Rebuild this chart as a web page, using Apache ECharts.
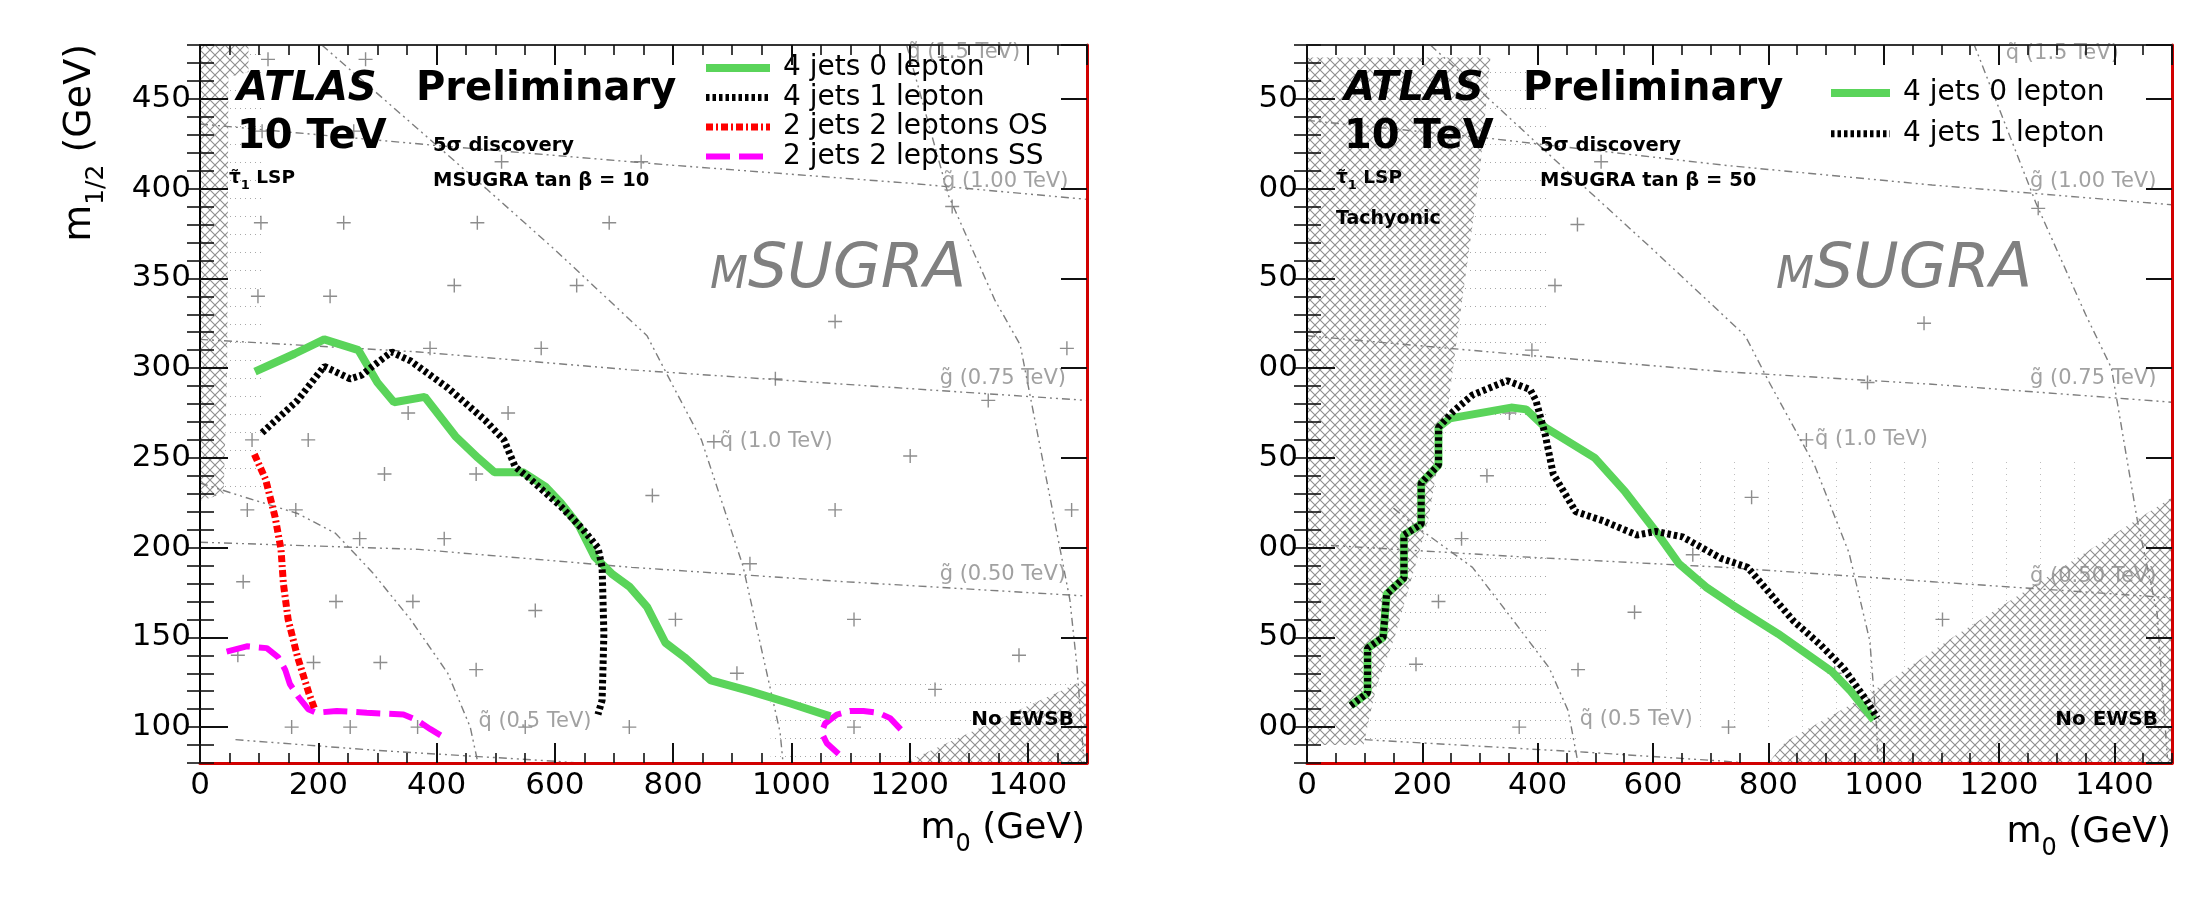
<!DOCTYPE html>
<html>
<head>
<meta charset="utf-8">
<title>ATLAS Preliminary - mSUGRA 5 sigma discovery reach</title>
<script src="https://cdn.jsdelivr.net/npm/echarts@6/dist/echarts.min.js"></script>
<style>
  html, body { margin: 0; padding: 0; background: #fff; }
  #chart { width: 2188px; height: 914px; }
</style>
</head>
<body>
<div id="chart"></div>
<script>
/* ATLAS 10 TeV mSUGRA 5 sigma discovery contours, tan beta = 10 (left) and 50 (right) */

const FONT = 'DejaVu Sans';
const NAMES = ['4 jets 0 lepton', '4 jets 1 lepton', '2 jets 2 leptons OS', '2 jets 2 leptons SS'];

// --- reach contours, [m0, m1/2] in GeV ---

// tan beta = 10
const green10 = [[93,298],[160,308],[210,316],[268,310],[300,292],[328,281],[380,284],[432,262],[470,250],[498,242],[546,242],[584,234],[610,225],[641,212],[667,195],[698,185],[727,178],[756,167],[787,147],[819,139],[864,126],[930,120],[1000,113],[1066,106]];
const black10 = [[105,264],[165,282],[210,301],[254,294],[273,296],[292,301],[324,309],[356,304],[419,289],[482,271],[514,260],[533,245],[559,238],[610,223],[648,210],[673,200],[680,189],[683,152],[680,115],[673,107]];
const red10 = [[92,252],[111,238],[127,217],[137,199],[141,180],[149,160],[165,139],[184,119],[194,110]];
const magentaA10 = [[45,142],[79,145],[113,144],[132,139],[144,132],[152,124],[166,117],[183,110],[197,108],[231,109],[282,108],[344,107],[366,104],[389,99],[409,95]];
const magentaB10 = [[1080,85],[1060,91],[1051,97],[1057,102],[1077,107],[1099,109],[1122,109],[1147,108],[1167,105],[1187,98]];

// tan beta = 50
const green50 = [[76,112],[105,119],[105,144],[132,150],[138,174],[168,183],[168,207],[198,213],[198,236],[228,246],[228,267],[248,272],[354,278],[380,277],[413,267],[499,250],[552,231],[605,209],[645,191],[692,178],[738,168],[817,152],[910,131],[943,120],[983,104]];
const black50 = [[76,112],[105,119],[105,144],[132,150],[138,174],[168,183],[168,207],[198,213],[198,236],[228,246],[228,267],[254,276],[287,285],[347,293],[387,288],[397,282],[413,263],[427,241],[466,220],[513,215],[572,207],[605,209],[651,206],[718,194],[764,189],[804,174],[844,159],[890,146],[930,133],[970,115],[989,105]];

// --- iso-mass lines (gluino / squark) ---
const gl100_10 = [[0,436],[400,424],[800,413],[1200,403],[1500,394]];
const gl075_10 = [[0,316],[370,309],[730,299],[1090,291],[1500,282]];
const gl050_10 = [[0,203],[370,199],[730,189],[1090,181],[1500,173]];
const gl025_10 = [[60,93],[300,87],[600,81],[640,80]];
const sq05_10 = [[0,236],[57,230],[165,219],[229,208],[292,186],[356,160],[419,130],[457,100],[470,80]];
const sq10_10 = [[206,480],[484,400],[600,366],[756,318],[800,290],[848,260],[918,190],[981,97],[986,80]];
const sq15_10 = [[1195,480],[1266,396],[1344,338],[1387,313],[1454,200],[1471,171],[1483,134],[1495,80]];

const gl100_50 = [[0,438],[316,428],[724,413],[1084,402],[1500,391]];
const gl075_50 = [[0,318],[388,307],[724,298],[1084,291],[1500,281]];
const gl050_50 = [[0,202],[364,195],[724,189],[1084,181],[1500,172]];
const gl025_50 = [[100,93],[484,86],[724,81],[760,80]];
const sq05_50 = [[150,222],[184,213],[287,189],[354,161],[420,133],[453,109],[470,80]];
const sq10_50 = [[214,480],[484,400],[600,366],[760,318],[800,293],[880,246],[940,197],[976,148],[988,99],[990,80]];
const sq15_50 = [[1156,481],[1264,392],[1350,330],[1395,300],[1440,215],[1474,164],[1492,83]];

// iso-mass line labels: [text, m0, m1/2]
const labels10 = [['g\u0303 (1.00 TeV)',1254,404],['g\u0303 (0.75 TeV)',1250,294],['g\u0303 (0.50 TeV)',1250,185],['q\u0303 (1.5 TeV)',1195,476],['q\u0303 (1.0 TeV)',878,259],['q\u0303 (0.5 TeV)',470,103]];
const labels50 = [['g\u0303 (1.00 TeV)',1253,404],['g\u0303 (0.75 TeV)',1253,294],['g\u0303 (0.50 TeV)',1253,184],['q\u0303 (1.5 TeV)',1211,475],['q\u0303 (1.0 TeV)',880,260],['q\u0303 (0.5 TeV)',472,104]];

// --- scan points (+) ---
const scan10 = [[115,472],[280,472],[105,432],[260,432],[510,415],[746,415],[1272,390],
  [103,381],[243,381],[469,381],[692,381],[430,346],[637,346],[98,340],[220,340],
  [1074,326],[389,311],[577,311],[1466,311],[973,294],[1333,282],[352,275],[521,275],
  [88,260],[183,260],[869,259],[1201,251],[312,241],[467,241],[765,229],
  [80,221],[162,221],[1074,221],[1474,221],[270,205],[413,205],[930,191],[73,181],
  [230,170],[360,170],[567,165],[804,160],[1106,160],
  [1385,140],[64,140],[192,136],[305,136],[467,132],[908,130],[1243,121],
  [155,100],[254,100],[368,100],[550,100],[726,100],[1106,100]];
const scan50 = [[510,415],[469,380],[430,346],[1070,325],[390,310],[972,292],[1268,389],[351,275],
  [866,260],[312,240],[771,228],[268,205],[669,196],[228,170],[568,164],[1102,160],
  [189,135],[470,132],[915,130],[368,100],[731,100]];

// --- excluded regions (hatched) and scan texture ---
const lspStrip10 = [[0,480],[82,480],[82,465],[48,462],[46,300],[40,230],[0,226]];
const noEwsb10 = [[1190,80],[1500,127],[1500,80]];
const tachyonic50 = [[0,473],[318,473],[300,410],[270,340],[245,280],[210,215],[188,190],[152,150],[120,122],[108,105],[98,90],[0,90]];
const noEwsb50 = [[800,80],[830,92],[940,112],[1000,124],[1120,150],[1500,228],[1500,80]];
const dotsA10 = [[0,480],[105,480],[105,228],[0,228]];
const dotsB10 = [[965,125],[1500,127],[1500,80],[965,80]];
const dotsA50 = [[316,473],[420,473],[420,130],[470,92],[98,90]];
const dotsB50 = [[600,250],[1340,250],[1340,100],[600,100]];

// --- patterns ---
function crossHatch() {
  const c = document.createElement('canvas');
  c.width = 10; c.height = 10;
  const ctx = c.getContext('2d');
  ctx.fillStyle = '#fff';
  ctx.fillRect(0, 0, 10, 10);
  ctx.strokeStyle = '#8e8e8e';
  ctx.lineWidth = 1.1;
  ctx.beginPath();
  ctx.moveTo(-2, -2); ctx.lineTo(12, 12);
  ctx.moveTo(12, -2); ctx.lineTo(-2, 12);
  ctx.stroke();
  return { type: 'pattern', image: c, repeat: 'repeat' };
}
function dots(w, h, color) {
  const c = document.createElement('canvas');
  c.width = w; c.height = h;
  const ctx = c.getContext('2d');
  ctx.fillStyle = color;
  ctx.fillRect(0, 0, 1, 1);
  return { type: 'pattern', image: c, repeat: 'repeat' };
}
const HATCH = crossHatch();
const ROWS = dots(5, 18, '#a8a8a8');
const COLS = dots(34, 6, '#bdbdbd');

const PLUS = 'path://M6.3,0h1.4v6.3h6.3v1.4h-6.3v6.3h-1.4v-6.3h-6.3v-1.4h6.3z';

// --- series helpers ---
function area(points, g, fill, z) {
  return {
    type: 'custom', xAxisIndex: g * 4, yAxisIndex: g * 4, silent: true, z: z,
    data: [0],
    renderItem: (params, api) => ({
      type: 'polygon',
      shape: { points: points.map(p => api.coord(p)) },
      style: { fill: fill, stroke: null }
    })
  };
}
function isoLine(data, g) {
  return {
    type: 'line', data: data, xAxisIndex: g * 4, yAxisIndex: g * 4,
    symbol: 'none', silent: true, z: 3,
    lineStyle: { color: '#7e7e7e', width: 1.4, type: [8, 4, 2, 4, 2, 4] }
  };
}
function isoLabels(list, g) {
  return {
    type: 'scatter', xAxisIndex: g * 4, yAxisIndex: g * 4, silent: true, z: 5,
    symbolSize: 1, itemStyle: { color: 'rgba(0,0,0,0)' },
    data: list.map(l => ({ name: l[0], value: [l[1], l[2]] })),
    label: { show: true, position: 'right', distance: 0, formatter: '{b}',
             fontFamily: FONT, fontSize: 21, color: '#8a8a8a' }
  };
}
function scanPoints(data, g) {
  return {
    type: 'scatter', xAxisIndex: g * 4, yAxisIndex: g * 4, silent: true, z: 4,
    symbol: PLUS, symbolSize: 14, itemStyle: { color: '#707070' }, data: data
  };
}
function curve(name, data, g, color, width, dash, z) {
  return {
    type: 'line', name: name, data: data, xAxisIndex: g * 4, yAxisIndex: g * 4,
    symbol: 'none', silent: true, z: z,
    itemStyle: { color: color },
    lineStyle: { color: color, width: width, type: dash, cap: 'butt' }
  };
}

// --- axes: bottom/top/left/right, each with a major and a minor layer ---
function xAxes(g) {
  const base = { gridIndex: g, type: 'value', min: 0, max: 1500, splitLine: { show: false }, z: 10 };
  const tick = (len, w) => ({ inside: true, length: len, lineStyle: { color: '#111', width: w } });
  return [
    Object.assign({}, base, { position: 'bottom', interval: 200,
      axisLine: { onZero: false, lineStyle: { color: '#d10000', width: 3 } },
      axisTick: tick(20, 2),
      axisLabel: { margin: 7, fontFamily: FONT, fontSize: 31, color: '#000', showMaxLabel: false,
                   formatter: v => String(v) } }),
    Object.assign({}, base, { position: 'bottom', interval: 50,
      axisLine: { show: false }, axisTick: tick(10, 1.6), axisLabel: { show: false } }),
    Object.assign({}, base, { position: 'top', interval: 200,
      axisLine: { onZero: false, lineStyle: { color: '#333', width: 2 } },
      axisTick: tick(20, 2), axisLabel: { show: false } }),
    Object.assign({}, base, { position: 'top', interval: 50,
      axisLine: { show: false }, axisTick: tick(10, 1.6), axisLabel: { show: false } })
  ];
}
function yAxes(g) {
  const base = { gridIndex: g, type: 'value', min: 80, max: 480, splitLine: { show: false }, z: 10 };
  const major = { splitNumber: 8, minInterval: 50, maxInterval: 50 };
  const tick = (len, w) => ({ inside: true, length: len, lineStyle: { color: '#111', width: w } });
  const label = { margin: 9, fontFamily: FONT, fontSize: 31, color: '#000', showMinLabel: false, showMaxLabel: false,
                  formatter: v => String(v) };
  // right panel is cropped on the left in the original figure: only the last two digits show
  if (g === 1) label.formatter = v => String(v).slice(-2);
  return [
    Object.assign({}, base, major, { position: 'left',
      axisLine: { onZero: false, lineStyle: { color: '#000', width: 2 } },
      axisTick: tick(28, 2), axisLabel: label }),
    Object.assign({}, base, { position: 'left', interval: 10,
      axisLine: { show: false }, axisTick: tick(14, 1.6), axisLabel: { show: false } }),
    Object.assign({}, base, major, { position: 'right',
      axisLine: { onZero: false, lineStyle: { color: '#d10000', width: 3 } },
      axisTick: tick(26, 2), axisLabel: { show: false } }),
    Object.assign({}, base, { position: 'right', interval: 10,
      axisLine: { show: false }, axisTick: tick(13, 1.6), axisLabel: { show: false } })
  ];
}

// --- text annotations ---
function txt(x, y, text, size, o) {
  o = o || {};
  return {
    type: 'text', x: x, y: y, silent: true, z: 20, rotation: o.rotation || 0,
    style: {
      text: text, fontFamily: FONT, fontSize: size,
      fontWeight: o.bold ? 'bold' : 'normal', fontStyle: o.italic ? 'italic' : 'normal',
      fill: o.color || '#000', align: o.align || 'left', verticalAlign: 'middle', rich: o.rich
    }
  };
}
function subRich(size, subSize, drop, bold) {
  const w = bold ? 'bold' : 'normal';
  return {
    a: { fontFamily: FONT, fontSize: size, fontWeight: w, lineHeight: size, verticalAlign: 'bottom', padding: [0, 0, drop, 0] },
    s: { fontFamily: FONT, fontSize: subSize, fontWeight: w, lineHeight: subSize, verticalAlign: 'bottom' }
  };
}
function panelText(gl, tanb, extra) {
  const out = [
    txt(gl + 37, 90, 'ATLAS', 40, { bold: true, italic: true }),
    txt(gl + 216, 90, 'Preliminary', 40, { bold: true }),
    txt(gl + 37, 138, '10 TeV', 40, { bold: true }),
    txt(gl + 233, 146, '5\u03c3 discovery', 19.5, { bold: true }),
    txt(gl + 233, 180.5, 'MSUGRA tan \u03b2 = ' + tanb, 19.5, { bold: true }),
    txt(gl + 29, 183, '{a|\u03c4\u0303}{s|1}{a| LSP}', 18.5, { bold: true, rich: subRich(18.5, 13, 5, true) })
  ];
  return out.concat(extra);
}

const graphics = [].concat(
  panelText(200, 10, [
    txt(710, 276.6, 'M', 44, { italic: true, color: '#808080' }),
    txt(748, 270.7, 'SUGRA', 62, { italic: true, color: '#808080' }),
    txt(1074, 720, 'No EWSB', 20, { bold: true, align: 'right' }),
    txt(90, 44, '{a|m}{s|1/2}{a| (GeV)}', 38, { align: 'right', rotation: Math.PI / 2, rich: subRich(38, 25, 10, false) }),
    txt(1085, 839, '{a|m}{s|0}{a| (GeV)}', 36, { align: 'right', rich: subRich(36, 24, 10, false) })
  ]),
  panelText(1307, 50, [
    txt(1336, 219, 'Tachyonic', 19, { bold: true }),
    txt(1776, 276.6, 'M', 44, { italic: true, color: '#808080' }),
    txt(1814, 270.7, 'SUGRA', 62, { italic: true, color: '#808080' }),
    txt(2158, 720, 'No EWSB', 20, { bold: true, align: 'right' }),
    txt(2171, 843, '{a|m}{s|0}{a| (GeV)}', 36, { align: 'right', rich: subRich(36, 24, 10, false) })
  ])
);

const legendBase = {
  orient: 'vertical', padding: 0, selectedMode: false,
  itemHeight: 14,
  lineStyle: { width: 'inherit', type: 'inherit', cap: 'butt' },
  itemStyle: { color: 'rgba(0,0,0,0)', borderWidth: 0, opacity: 0 },
  textStyle: { fontFamily: FONT, fontSize: 28, color: '#000', padding: [0, 0, 0, 8] }
};

const option = {
  animation: false,
  backgroundColor: '#fff',
  grid: [
    { left: 200, top: 45, width: 887, height: 718 },
    { left: 1307, top: 45, width: 865, height: 718 }
  ],
  xAxis: xAxes(0).concat(xAxes(1)),
  yAxis: yAxes(0).concat(yAxes(1)),
  legend: [
    Object.assign({}, legendBase, { data: NAMES, left: 702, top: 54, itemWidth: 64, itemGap: 1.5 }),
    Object.assign({}, legendBase, { data: NAMES.slice(0, 2), left: 1827, top: 79, itemWidth: 59, itemGap: 12.7 })
  ],
  graphic: graphics,
  series: [
    // tan beta = 10
    area(dotsA10, 0, ROWS, 1),
    area(dotsB10, 0, ROWS, 1),
    area(lspStrip10, 0, HATCH, 2),
    area(noEwsb10, 0, HATCH, 2),
    isoLine(gl100_10, 0), isoLine(gl075_10, 0), isoLine(gl050_10, 0), isoLine(gl025_10, 0),
    isoLine(sq05_10, 0), isoLine(sq10_10, 0), isoLine(sq15_10, 0),
    scanPoints(scan10, 0),
    isoLabels(labels10, 0),
    curve(NAMES[3], magentaA10, 0, '#ff00ff', 6, [24, 9], 6),
    curve(NAMES[3], magentaB10, 0, '#ff00ff', 6, [24, 9], 6),
    curve(NAMES[2], red10, 0, '#ff0000', 7, [7, 3, 2, 3], 7),
    curve(NAMES[0], green10, 0, '#5ad45a', 8, 'solid', 8),
    curve(NAMES[1], black10, 0, '#000000', 7, [3.5, 3], 9),
    // tan beta = 50
    area(dotsA50, 1, ROWS, 1),
    area(dotsB50, 1, COLS, 1),
    area(tachyonic50, 1, HATCH, 2),
    area(noEwsb50, 1, HATCH, 2),
    isoLine(gl100_50, 1), isoLine(gl075_50, 1), isoLine(gl050_50, 1), isoLine(gl025_50, 1),
    isoLine(sq05_50, 1), isoLine(sq10_50, 1), isoLine(sq15_50, 1),
    scanPoints(scan50, 1),
    isoLabels(labels50, 1),
    curve(NAMES[0], green50, 1, '#5ad45a', 8, 'solid', 8),
    curve(NAMES[1], black50, 1, '#000000', 7, [3.5, 3], 9)
  ]
};

const chart = echarts.init(document.getElementById('chart'));
chart.setOption(option);
</script>
</body>
</html>
